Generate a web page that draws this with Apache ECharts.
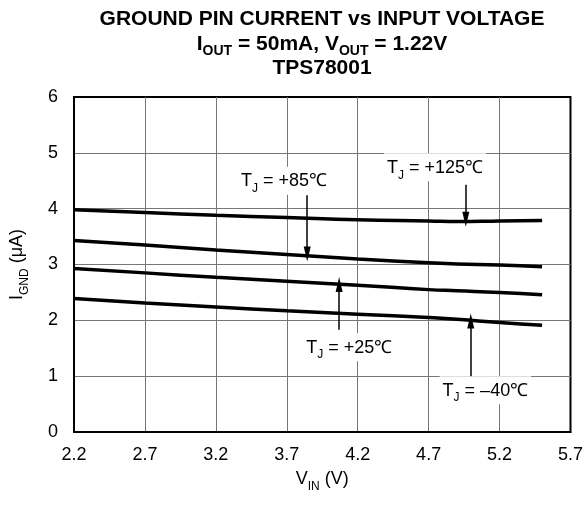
<!DOCTYPE html>
<html>
<head>
<meta charset="utf-8">
<script src="https://cdn.jsdelivr.net/npm/echarts@6/dist/echarts.min.js"></script>
<style>
  html, body { margin: 0; padding: 0; background: #fff; }
  #chart { width: 586px; height: 516px; }
</style>
</head>
<body>
<div id="chart"></div>
<script>
// Input voltage samples (V) and ground pin current (µA) per junction temperature
const vin = [2.2, 2.7, 3.2, 3.7, 4.2, 4.7, 4.9, 5.2, 5.5];
const ignd125 = [3.98, 3.93, 3.88, 3.84, 3.80, 3.78, 3.77, 3.78, 3.79];
const ignd85 = [3.43, 3.35, 3.26, 3.18, 3.10, 3.03, 3.01, 2.99, 2.96];
const ignd25 = [2.93, 2.85, 2.77, 2.70, 2.63, 2.55, 2.53, 2.50, 2.46];
const igndM40 = [2.39, 2.31, 2.24, 2.17, 2.11, 2.05, 2.02, 1.96, 1.91];

// Curve callouts: label text, label anchor [V, µA], arrow [V, from µA, to µA]
const calloutText = ['+85℃', '+125℃', '+25℃', '–40℃'];
const calloutAt = [[3.68, 4.50], [4.745, 4.74], [4.14, 1.52], [5.10, 0.75]];
const calloutArrow = [[3.844, 4.24, 3.19], [4.962, 4.43, 3.81], [4.069, 1.83, 2.64], [4.997, 0.97, 1.99]];

const FONT = "'Liberation Sans', Arial, Helvetica, sans-serif";

function pairs(ys) { return vin.map((v, i) => [v, ys[i]]); }

function curve(ys) {
  return {
    type: 'line',
    data: pairs(ys),
    smooth: true,
    showSymbol: false,
    silent: true,
    lineStyle: { color: '#000', width: 3.5 },
    z: 3
  };
}

const subRich = {
  t: { fontFamily: FONT, fontSize: 18, color: '#000', lineHeight: 19 },
  s: { fontFamily: FONT, fontSize: 12, color: '#000', lineHeight: 27, verticalAlign: 'bottom' }
};

const chart = echarts.init(document.getElementById('chart'), null, { renderer: 'canvas' });

chart.setOption({
  animation: false,
  backgroundColor: '#fff',
  title: {
    left: 317,
    top: 4,
    textAlign: 'center',
    text: '{a|GROUND PIN CURRENT vs INPUT VOLTAGE}\n{a|I}{s|OUT}{a| = 50mA, V}{s|OUT}{a| = 1.22V}\n{a|TPS78001}',
    textStyle: {
      rich: {
        a: { fontFamily: FONT, fontSize: 21, fontWeight: 'bold', color: '#000', lineHeight: 21, align: 'center' },
        s: { fontFamily: FONT, fontSize: 14, fontWeight: 'bold', color: '#000', lineHeight: 28, verticalAlign: 'bottom', align: 'center' }
      }
    }
  },
  grid: {
    left: 74, right: 14, top: 97, bottom: 84,
    show: true, borderColor: '#000', borderWidth: 2, backgroundColor: 'transparent'
  },
  xAxis: {
    type: 'value',
    min: 2.2, max: 5.7, interval: 0.5,
    name: '{t|V}{s|IN}{t| (V)}',
    nameLocation: 'middle',
    nameGap: 34,
    nameTextStyle: { rich: subRich },
    axisLine: { show: true, lineStyle: { color: '#000', width: 2 } },
    axisTick: { show: false },
    axisLabel: { color: '#000', fontFamily: FONT, fontSize: 18, margin: 14 },
    splitLine: { show: true, showMinLine: false, showMaxLine: false, lineStyle: { color: '#777', width: 1 } }
  },
  yAxis: {
    type: 'value',
    min: 0, max: 6, interval: 1,
    name: '{t|I}{s|GND}{t| (μA)}',
    nameLocation: 'middle',
    nameRotate: 90,
    nameGap: 43,
    nameTextStyle: { rich: subRich },
    axisLine: { show: true, lineStyle: { color: '#000', width: 2 } },
    axisTick: { show: false },
    axisLabel: { color: '#000', fontFamily: FONT, fontSize: 18, margin: 16 },
    splitLine: { show: true, showMinLine: false, showMaxLine: false, lineStyle: { color: '#777', width: 1 } }
  },
  series: [
    curve(ignd125),
    curve(ignd85),
    curve(ignd25),
    curve(igndM40),
    {
      // callout labels and arrows
      type: 'line',
      data: [],
      silent: true,
      z: 4,
      markPoint: {
        symbol: 'rect',
        symbolSize: 0,
        silent: true,
        label: {
          show: true,
          position: 'inside',
          backgroundColor: '#fff',
          padding: [1, 3, 0, 3],
          formatter: p => '{t|T}{s|J}{t| = ' + p.name + '}',
          rich: subRich
        },
        data: calloutText.map((txt, i) => ({ name: txt, coord: calloutAt[i] }))
      },
      markLine: {
        silent: true,
        symbol: ['none', 'triangle'],
        symbolSize: [7, 15],
        label: { show: false },
        lineStyle: { color: '#000', width: 1.5, type: 'solid' },
        data: calloutArrow.map(a => [{ coord: [a[0], a[1]] }, { coord: [a[0], a[2]] }])
      }
    }
  ]
});
</script>
</body>
</html>
